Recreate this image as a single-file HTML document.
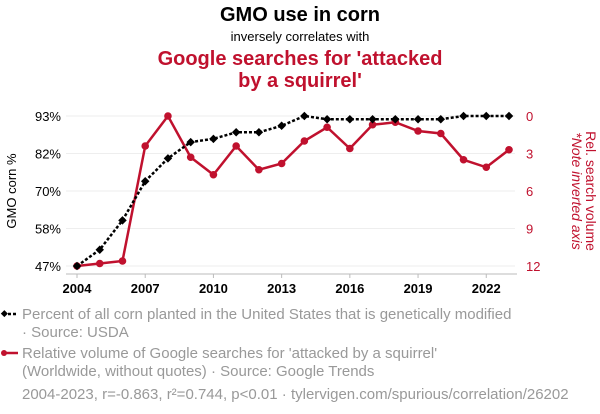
<!DOCTYPE html>
<html><head><meta charset="utf-8"><style>
body{margin:0;background:#fff;font-family:"Liberation Sans",sans-serif;}
#wrap{position:relative;width:600px;height:414px;overflow:hidden;}
</style></head><body>
<div id="wrap">
<svg id="svg" width="600" height="414" xmlns="http://www.w3.org/2000/svg" font-family="Liberation Sans, sans-serif">
<text x="300" y="21" text-anchor="middle" font-size="20" font-weight="bold" fill="#000">GMO use in corn</text>
<text x="300" y="41" text-anchor="middle" font-size="13" fill="#000">inversely correlates with</text>
<text x="300" y="65" text-anchor="middle" font-size="20" font-weight="bold" fill="#c0112e">Google searches for 'attacked</text>
<text x="300" y="87" text-anchor="middle" font-size="20" font-weight="bold" fill="#c0112e">by a squirrel'</text>
<g id="grid"></g><g id="axes"></g><g id="marks"></g>
<text transform="translate(16,191) rotate(-90)" text-anchor="middle" font-size="13" fill="#000">GMO corn %</text>
<text transform="translate(586,191) rotate(90)" text-anchor="middle" font-size="14" fill="#c0112e">Rel. search volume</text>
<text transform="translate(572,191) rotate(90)" text-anchor="middle" font-size="14" font-style="italic" fill="#c0112e">*Note inverted axis</text>
<g>
<line x1="3" y1="314" x2="18" y2="314" stroke="#000" stroke-width="2.5" stroke-dasharray="3,2"/>
<rect x="1.5" y="311" width="5" height="5" transform="rotate(45 4 314)" fill="#000"/>
<text x="22" y="319" font-size="15" fill="#999">Percent of all corn planted in the United States that is genetically modified</text>
<text x="22" y="337" font-size="15" fill="#999">· Source: USDA</text></g>
<g>
<line x1="3" y1="353" x2="18" y2="353" stroke="#c0112e" stroke-width="2.5"/>
<circle cx="4" cy="353" r="3" fill="#c0112e"/>
<text x="22" y="358" font-size="15" fill="#999">Relative volume of Google searches for 'attacked by a squirrel'</text>
<text x="22" y="376" font-size="15" fill="#999">(Worldwide, without quotes) · Source: Google Trends</text></g>
<text x="22" y="399" font-size="15" fill="#999">2004-2023, r=-0.863, r²=0.744, p&lt;0.01 · tylervigen.com/spurious/correlation/26202</text>
</svg></div>
<script>
const years=[2004,2005,2006,2007,2008,2009,2010,2011,2012,2013,2014,2015,2016,2017,2018,2019,2020,2021,2022,2023];
const gmo=[47,52,61,73,80,85,86,88,88,90,93,92,92,92,92,92,92,93,93,93];
const searches=[12,11.8,11.6,2.4,0,3.3,4.7,2.4,4.3,3.8,2,0.9,2.6,0.7,0.5,1.2,1.4,3.5,4.1,2.7];
const leftTicks=[47,58.5,70,81.5,93];
const leftTickLabels=["47%","58%","70%","82%","93%"];
const rightTicks=[0,3,6,9,12];
const xTicks=[2004,2007,2010,2013,2016,2019,2022];
const NS="http://www.w3.org/2000/svg";
const X=y=>77+(y-2004)*(509-77)/19;
const YL=v=>266-(v-47)*150/46;
const YR=v=>116+v*150/12;
function mk(t,a,p){const e=document.createElementNS(NS,t);for(const k in a)e.setAttribute(k,a[k]);p.appendChild(e);return e;}
const grid=document.getElementById('grid'),axes=document.getElementById('axes'),marks=document.getElementById('marks');
leftTicks.forEach((v,i)=>{
 const l=mk('line',{x1:66,x2:515,y1:YL(v),y2:YL(v),stroke:'#eee','stroke-width':1},grid);
 
 
 const t=mk('text',{x:61,y:YL(v)+5,'text-anchor':'end','font-size':13,fill:'#000'},axes);t.textContent=leftTickLabels[i];
 
 
});
rightTicks.forEach(v=>{
 const t=mk('text',{x:526,y:YR(v)+5,'font-size':13,fill:'#c0112e'},axes);t.textContent=v;
 
 
});
const xa=mk('line',{x1:66,x2:517,y1:274,y2:274,stroke:'#bbb','stroke-width':1},axes);


xTicks.forEach(v=>{
 mk('line',{x1:X(v),x2:X(v),y1:274,y2:278,stroke:'#bbb'},axes);
 const t=mk('text',{x:X(v),y:293,'text-anchor':'middle','font-size':13,'font-weight':'bold',fill:'#000'},axes);t.textContent=v;
 
 
});
const rp=mk('polyline',{points:years.map((y,i)=>X(y)+','+YR(searches[i])).join(' '),fill:'none',stroke:'#c0112e','stroke-width':2.5},marks);


years.forEach((y,i)=>{const c=mk('circle',{cx:X(y),cy:YR(searches[i]),r:3.8,fill:'#c0112e'},marks);
 
 });
const gp=mk('polyline',{points:years.map((y,i)=>X(y)+','+YL(gmo[i])).join(' '),fill:'none',stroke:'#000','stroke-width':2.5,'stroke-dasharray':'3,2'},marks);


years.forEach((y,i)=>{const cx=X(y),cy=YL(gmo[i]);const r=mk('rect',{x:cx-3,y:cy-3,width:6,height:6,fill:'#000',transform:`rotate(45 ${cx} ${cy})`},marks);
 
 });
</script>
</body></html>
